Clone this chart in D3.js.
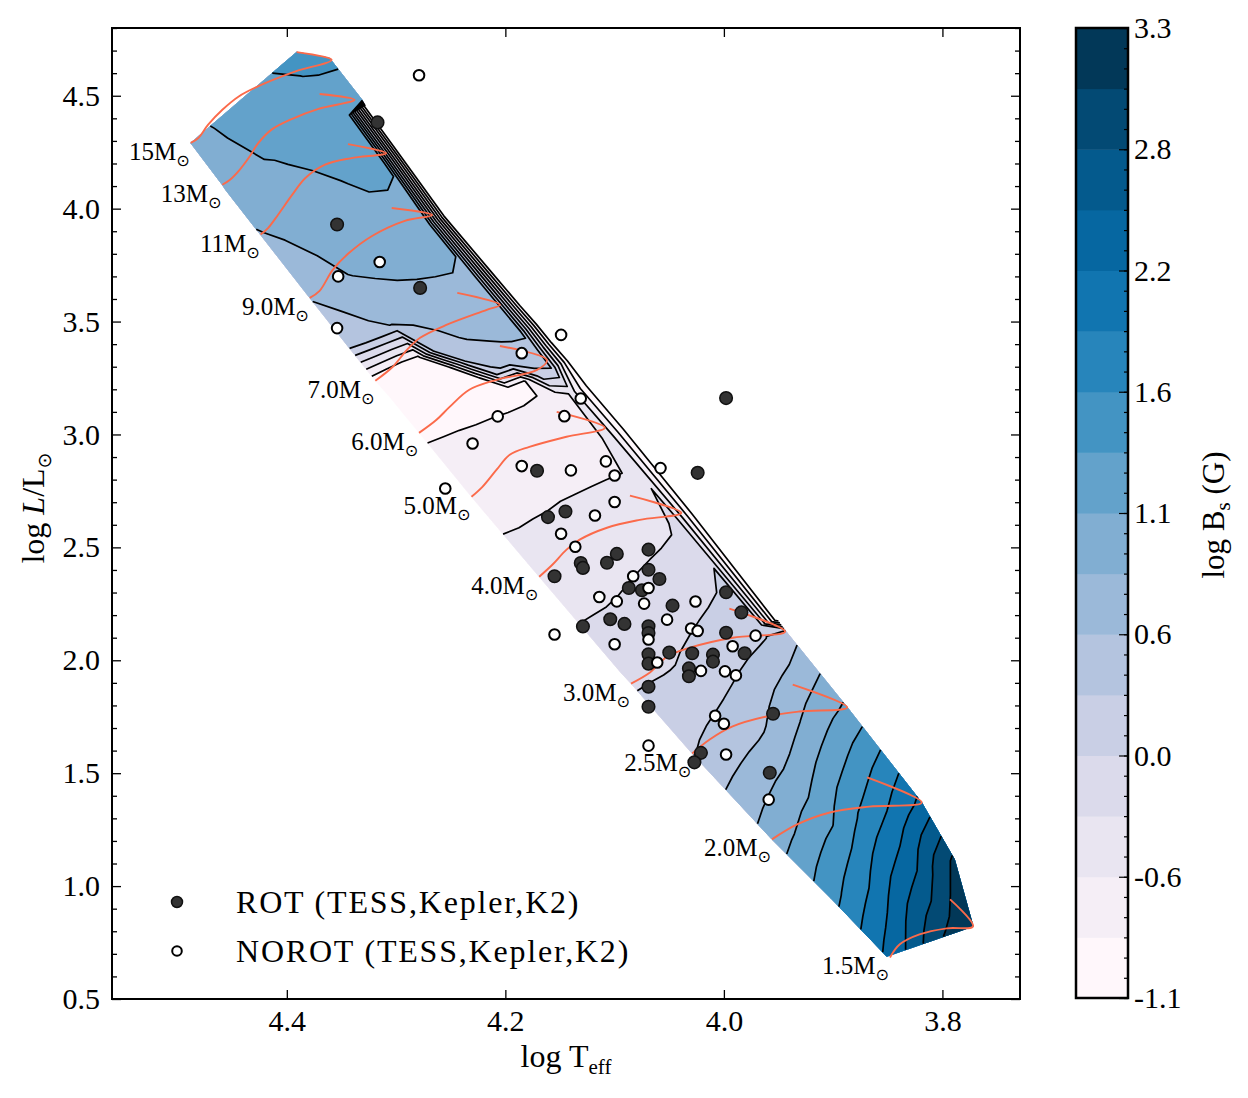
<!DOCTYPE html>
<html>
<head>
<meta charset="utf-8">
<script src="https://cdn.jsdelivr.net/npm/d3@7"></script>
<style>
  body { margin: 0; background: #fff; }
  svg text { font-family: 'Liberation Serif', 'DejaVu Serif', serif; fill: #000; }
</style>
</head>
<body>
<svg id="chart"></svg>
<script>
// ---- contour levels / ticks ----
const levels = d3.range(17).map(i => -1.1 + i * 0.275);
const cbarTickLabels = ['-1.1', '-0.6', '0.0', '0.6', '1.1', '1.6', '2.2', '2.8', '3.3'];
const xTicks = [4.4, 4.2, 4.0, 3.8];
const yTicks = [0.5, 1.0, 1.5, 2.0, 2.5, 3.0, 3.5, 4.0, 4.5];

// cross-sections of the main-sequence band, ZAMS edge -> TAMS edge
const sectionMass = ['edge', '15', '13', '12.8', '11', '9', '8', '7', '6.67', '6.33', '6', '5.6', '5', '4', '3.1', '3', '2.5', '2', '1.75', '1.5'];
const zamsLogT = [4.488, 4.488, 4.459, 4.456, 4.424, 4.379, 4.343, 4.319, 4.305, 4.292, 4.279, 4.262, 4.231, 4.169, 4.094, 4.085, 4.029, 3.956, 3.902, 3.851];
const zamsLogL = [4.291, 4.291, 4.105, 4.083, 3.884, 3.605, 3.384, 3.238, 3.161, 3.084, 3.008, 2.908, 2.724, 2.370, 1.944, 1.897, 1.587, 1.207, 0.946, 0.689];
const tamsLogT = [4.391, 4.361, 4.331, 4.328, 4.296, 4.255, 4.213, 4.185, 4.170, 4.156, 4.141, 4.122, 4.088, 4.026, 3.951, 3.943, 3.887, 3.819, 3.789, 3.772];
const tamsLogL = [4.693, 4.667, 4.481, 4.458, 4.246, 3.972, 3.733, 3.574, 3.493, 3.411, 3.330, 3.225, 3.030, 2.654, 2.180, 2.127, 1.791, 1.370, 1.118, 0.822];
// fractional main-sequence position of each sample
const tauRows = [0, 0.1, 0.2, 0.3, 0.4, 0.5, 0.6, 0.7, 0.8, 0.88, 1.0];
// log Bs read along each cross-section (one value per tauRows entry)
const logBsBySection = [
  [0.98, 1.04, 1.11, 1.16, 1.20, 1.24, 1.29, 1.34, 1.39, 1.43, 1.50],
  [0.98, 1.05, 1.12, 1.17, 1.21, 1.25, 1.29, 1.33, 1.38, 1.40, 1.42],
  [0.95, 1.00, 1.05, 1.10, 1.14, 1.17, 1.20, 1.22, 1.24, 1.25, 1.25],
  [0.93, 0.98, 1.03, 1.08, 1.12, 1.15, 1.18, 1.20, 1.22, 1.20, -1.30],
  [0.81, 0.87, 0.92, 0.97, 1.01, 1.05, 1.09, 1.13, 1.16, 1.15, -1.30],
  [0.57, 0.66, 0.76, 0.84, 0.90, 0.95, 0.98, 1.00, 0.98, 0.92, -1.30],
  [0.30, 0.40, 0.49, 0.56, 0.62, 0.68, 0.72, 0.75, 0.78, 0.76, -1.30],
  [-1.00, -1.00, -0.98, -0.90, 0.35, 0.48, 0.58, 0.64, 0.68, 0.70, -1.30],
  [-0.97, -0.97, -0.97, -0.96, -0.90, 0.30, 0.45, 0.52, 0.58, 0.60, -1.30],
  [-0.93, -0.93, -0.93, -0.93, -0.92, -0.90, 0.22, 0.35, 0.42, 0.45, -1.30],
  [-0.88, -0.89, -0.90, -0.91, -0.92, -0.93, -0.94, -0.88, 0.20, 0.27, -1.30],
  [-0.76, -0.76, -0.76, -0.77, -0.77, -0.78, -0.78, -0.79, -0.79, -0.45, -1.30],
  [-0.62, -0.63, -0.63, -0.64, -0.64, -0.65, -0.66, -0.67, -0.69, -0.40, -1.30],
  [-0.47, -0.46, -0.45, -0.43, -0.41, -0.39, -0.37, -0.35, -0.32, -0.20, -1.30],
  [-0.07, -0.06, -0.05, -0.03, 0.01, 0.05, 0.09, 0.13, 0.18, 0.24, -1.30],
  [-0.03, -0.02, -0.01, 0.01, 0.05, 0.09, 0.13, 0.18, 0.23, 0.28, 0.42],
  [0.26, 0.32, 0.38, 0.44, 0.50, 0.58, 0.70, 0.83, 0.95, 1.04, 1.15],
  [0.95, 1.05, 1.15, 1.26, 1.36, 1.53, 1.70, 1.83, 1.97, 2.09, 2.27],
  [1.55, 1.67, 1.79, 1.91, 2.07, 2.23, 2.35, 2.48, 2.70, 2.88, 3.08],
  [2.25, 2.35, 2.45, 2.58, 2.72, 2.85, 2.98, 3.06, 3.13, 3.19, 3.26]
];

// evolutionary tracks
const trackLabels = ['15M', '13M', '11M', '9.0M', '7.0M', '6.0M', '5.0M', '4.0M', '3.0M', '2.5M', '2.0M', '1.5M'];
const trackLogT = [
  [4.488, 4.481, 4.472, 4.459, 4.444, 4.423, 4.392, 4.359, 4.391],
  [4.459, 4.452, 4.443, 4.435, 4.426, 4.414, 4.395, 4.371, 4.338, 4.370],
  [4.424, 4.417, 4.408, 4.395, 4.383, 4.365, 4.341, 4.309, 4.344],
  [4.379, 4.370, 4.358, 4.344, 4.322, 4.292, 4.267, 4.304],
  [4.319, 4.303, 4.290, 4.278, 4.254, 4.217, 4.205, 4.244],
  [4.279, 4.263, 4.251, 4.233, 4.208, 4.171, 4.162, 4.205],
  [4.231, 4.221, 4.208, 4.196, 4.178, 4.144, 4.109, 4.153],
  [4.169, 4.157, 4.144, 4.132, 4.107, 4.077, 4.039, 4.086],
  [4.085, 4.068, 4.052, 4.031, 3.992, 3.944, 3.995],
  [4.029, 4.013, 3.992, 3.961, 3.931, 3.887, 3.937],
  [3.956, 3.933, 3.903, 3.867, 3.819, 3.869],
  [3.848, 3.839, 3.821, 3.796, 3.772, 3.793]
];
const trackLogL = [
  [4.291, 4.313, 4.372, 4.438, 4.497, 4.549, 4.608, 4.659, 4.693],
  [4.106, 4.128, 4.173, 4.224, 4.291, 4.350, 4.398, 4.442, 4.482, 4.508],
  [3.885, 3.915, 3.973, 4.062, 4.136, 4.195, 4.224, 4.246, 4.286],
  [3.605, 3.636, 3.729, 3.800, 3.879, 3.946, 3.972, 4.003],
  [3.238, 3.300, 3.375, 3.428, 3.485, 3.552, 3.574, 3.627],
  [3.007, 3.065, 3.122, 3.198, 3.242, 3.286, 3.330, 3.392],
  [2.724, 2.768, 2.844, 2.910, 2.945, 2.990, 3.030, 3.100],
  [2.370, 2.423, 2.490, 2.534, 2.587, 2.622, 2.653, 2.729],
  [1.897, 1.945, 2.016, 2.056, 2.100, 2.127, 2.229],
  [1.587, 1.649, 1.707, 1.751, 1.773, 1.791, 1.892],
  [1.207, 1.273, 1.326, 1.352, 1.370, 1.481],
  [0.684, 0.742, 0.786, 0.813, 0.822, 0.941]
];

// stars
const rotLogT = [4.317, 4.354, 4.278, 4.171, 4.024, 3.998, 4.145, 4.161, 4.098, 4.069, 4.131, 4.129, 4.107, 4.069, 4.059, 4.155, 4.087, 4.075, 4.047, 4.104, 4.091, 3.998, 3.984, 4.069, 4.069, 3.998, 4.129, 4.050, 4.029, 4.010, 4.010, 3.981, 4.069, 4.069, 4.032, 4.032, 4.069, 4.069, 3.955, 4.021, 4.027, 3.958];
const rotLogL = [4.382, 3.930, 3.649, 2.839, 2.830, 3.161, 2.659, 2.634, 2.471, 2.490, 2.431, 2.409, 2.432, 2.401, 2.360, 2.372, 2.320, 2.310, 2.242, 2.182, 2.161, 2.301, 2.212, 2.151, 2.121, 2.122, 2.150, 2.034, 2.031, 2.025, 1.994, 2.031, 2.027, 1.985, 1.964, 1.929, 1.883, 1.794, 1.763, 1.590, 1.548, 1.502];
const norotLogT = [4.279, 4.315, 4.353, 4.354, 4.149, 4.185, 4.131, 4.207, 4.146, 4.230, 4.185, 4.140, 4.255, 4.108, 4.100, 4.058, 4.100, 4.118, 4.149, 4.136, 4.083, 4.069, 4.114, 4.098, 4.073, 4.026, 4.052, 4.069, 4.030, 4.024, 3.971, 4.100, 3.992, 4.061, 4.021, 3.999, 3.989, 4.008, 4.000, 4.069, 3.998, 3.959, 4.155];
const norotLogL = [4.591, 3.764, 3.700, 3.471, 3.441, 3.360, 3.159, 3.080, 3.081, 2.960, 2.860, 2.841, 2.761, 2.881, 2.818, 2.851, 2.701, 2.641, 2.560, 2.503, 2.372, 2.320, 2.280, 2.261, 2.251, 2.260, 2.180, 2.092, 2.141, 2.130, 2.109, 2.071, 2.062, 1.990, 1.953, 1.951, 1.933, 1.754, 1.719, 1.622, 1.583, 1.383, 2.114];

class BandChart {

    constructor(_config) {
        this.config = {
            parentElement: _config.parentElement,
            containerWidth: _config.containerWidth || 1248,
            containerHeight: _config.containerHeight || 1098,
            margin: _config.margin || {top: 28, right: 228, bottom: 99, left: 112}
        };
        this.initVis();
    }

    initVis() {
        let vis = this;

        vis.width = vis.config.containerWidth - vis.config.margin.left - vis.config.margin.right;
        vis.height = vis.config.containerHeight - vis.config.margin.top - vis.config.margin.bottom;

        vis.xScale = d3.scaleLinear().domain([4.56, 3.729]).range([0, vis.width]);
        vis.yScale = d3.scaleLinear().domain([0.5, 4.8]).range([vis.height, 0]);
        vis.colorOf = k => d3.interpolatePuBu(k / 15);

        vis.svg = d3.select(vis.config.parentElement)
            .attr('width', vis.config.containerWidth)
            .attr('height', vis.config.containerHeight);

        vis.chart = vis.svg.append('g')
            .attr('transform', `translate(${vis.config.margin.left},${vis.config.margin.top})`);

        vis.nCols = sectionMass.length;
        vis.nRows = tauRows.length;
    }

    // grid coordinates from d3.contours -> (logT, logL)
    gridToData(gx, gy) {
        let vis = this;
        const s = Math.max(0, Math.min(vis.nCols - 1, gx - 0.5));
        const t = Math.max(0, Math.min(vis.nRows - 1, gy - 0.5));
        const i = Math.min(vis.nCols - 2, Math.floor(s)), fs = s - i;
        const j = Math.min(vis.nRows - 2, Math.floor(t)), ft = t - j;
        const tau = tauRows[j] + ft * (tauRows[j + 1] - tauRows[j]);
        const at = k => [zamsLogT[k] + tau * (tamsLogT[k] - zamsLogT[k]),
                         zamsLogL[k] + tau * (tamsLogL[k] - zamsLogL[k])];
        const a = at(i), b = at(i + 1);
        return [a[0] + fs * (b[0] - a[0]), a[1] + fs * (b[1] - a[1])];
    }

    toScreen(p) {
        let vis = this;
        const d = vis.gridToData(p[0], p[1]);
        return vis.xScale(d[0]).toFixed(2) + ',' + vis.yScale(d[1]).toFixed(2);
    }

    isBorder(p) {
        return p[0] <= 0 || p[0] >= this.nCols || p[1] <= 0 || p[1] >= this.nRows;
    }

    // split a contour ring into the pieces that are real iso-lines
    ringLines(ring) {
        let vis = this;
        let pts = ring.slice();
        const first = pts[0], last = pts[pts.length - 1];
        if (first[0] === last[0] && first[1] === last[1]) pts.pop();
        const n = pts.length;
        const start = pts.findIndex(p => vis.isBorder(p));
        if (start < 0) return ['M' + pts.map(p => vis.toScreen(p)).join('L') + 'Z'];
        const runs = [];
        let cur = [];
        for (let k = 1; k <= n; k++) {
            const p = pts[(start + k) % n];
            if (vis.isBorder(p)) {
                if (cur.length > 1) runs.push(cur);
                cur = [];
            } else cur.push(p);
        }
        if (cur.length > 1) runs.push(cur);
        return runs.map(r => 'M' + r.map(p => vis.toScreen(p)).join('L'));
    }

    renderVis() {
        let vis = this;

        // filled contours
        const values = [];
        for (let j = 0; j < vis.nRows; j++)
            for (let i = 0; i < vis.nCols; i++) values.push(logBsBySection[i][j]);
        const contours = d3.contours().size([vis.nCols, vis.nRows]).thresholds(levels)(values);

        const fills = vis.chart.append('g');
        contours.slice(0, 16).forEach((c, k) => {
            const d = c.coordinates.map(poly => poly.map(ring =>
                'M' + ring.map(p => vis.toScreen(p)).join('L') + 'Z').join('')).join('');
            if (!d) return;
            fills.append('path')
                .attr('d', d)
                .attr('fill', vis.colorOf(k))
                .attr('fill-rule', 'evenodd')
                .attr('stroke', vis.colorOf(k))
                .attr('stroke-width', 0.6);
        });

        // contour lines
        const lines = vis.chart.append('g');
        contours.forEach(c => {
            const d = [];
            c.coordinates.forEach(poly => poly.forEach(ring => d.push(...vis.ringLines(ring))));
            if (!d.length) return;
            lines.append('path')
                .attr('d', d.join(''))
                .attr('fill', 'none')
                .attr('stroke', '#000')
                .attr('stroke-width', 1.7)
                .attr('stroke-linejoin', 'round');
        });

        // evolutionary tracks
        const trackLine = d3.line()
            .x(d => vis.xScale(d[0]))
            .y(d => vis.yScale(d[1]))
            .curve(d3.curveCatmullRom.alpha(0.5));
        vis.chart.append('g').selectAll('.track')
            .data(trackLogT.map((ts, i) => ts.map((t, k) => [t, trackLogL[i][k]])))
            .join('path')
            .attr('class', 'track')
            .attr('d', trackLine)
            .attr('fill', 'none')
            .attr('stroke', '#fb6a4a')
            .attr('stroke-width', 1.9);

        // mass labels at the ZAMS end of each track
        const labels = vis.chart.append('g').selectAll('.mlab')
            .data(trackLabels)
            .join('text')
            .attr('class', 'mlab')
            .attr('x', (d, i) => vis.xScale(trackLogT[i][0]) - 1)
            .attr('y', (d, i) => vis.yScale(trackLogL[i][0]) + 17)
            .attr('text-anchor', 'end')
            .style('font-size', '25px');
        labels.append('tspan').text(d => d);
        labels.append('tspan')
            .attr('dy', 6)
            .style('font-size', '16px')
            .style('font-family', 'DejaVu Sans')
            .text('\u2299');

        // stars
        const pts = vis.chart.append('g');
        pts.selectAll('.rot')
            .data(rotLogT.map((t, i) => [t, rotLogL[i]]))
            .join('circle')
            .attr('class', 'rot')
            .attr('cx', d => vis.xScale(d[0]))
            .attr('cy', d => vis.yScale(d[1]))
            .attr('r', 6.3)
            .attr('fill', '#333')
            .attr('stroke', '#111')
            .attr('stroke-width', 1.5);
        pts.selectAll('.norot')
            .data(norotLogT.map((t, i) => [t, norotLogL[i]]))
            .join('circle')
            .attr('class', 'norot')
            .attr('cx', d => vis.xScale(d[0]))
            .attr('cy', d => vis.yScale(d[1]))
            .attr('r', 5.3)
            .attr('fill', '#fff')
            .attr('stroke', '#000')
            .attr('stroke-width', 2);

        // legend
        const legend = vis.chart.append('g').attr('transform', 'translate(65,874)');
        legend.append('circle').attr('cx', 0).attr('cy', 0).attr('r', 5.5)
            .attr('fill', '#333').attr('stroke', '#111').attr('stroke-width', 1.5);
        legend.append('circle').attr('cx', 0).attr('cy', 49).attr('r', 4.8)
            .attr('fill', '#fff').attr('stroke', '#000').attr('stroke-width', 2);
        legend.selectAll('.ltxt')
            .data(['ROT (TESS,Kepler,K2)', 'NOROT (TESS,Kepler,K2)'])
            .join('text')
            .attr('class', 'ltxt')
            .attr('x', 59)
            .attr('y', (d, i) => i * 49 + 11)
            .style('font-size', '32px')
            .style('letter-spacing', '1.8px')
            .text(d => d);

        // axes, ticks inward on all sides
        const minorY = d3.range(5, 49).map(v => v / 10).filter(v => !yTicks.includes(v));
        vis.chart.append('g')
            .attr('transform', `translate(0,${vis.height})`)
            .call(d3.axisBottom(vis.xScale).tickValues(xTicks).tickSize(-9).tickPadding(11).tickFormat(d3.format('.1f')))
            .call(g => g.selectAll('text').style('font-size', '30px'));
        vis.chart.append('g')
            .call(d3.axisTop(vis.xScale).tickValues(xTicks).tickSize(-9).tickFormat(''));
        vis.chart.append('g')
            .call(d3.axisLeft(vis.yScale).tickValues(yTicks).tickSize(-9).tickPadding(12).tickFormat(d3.format('.1f')))
            .call(g => g.selectAll('text').style('font-size', '30px'));
        vis.chart.append('g')
            .call(d3.axisLeft(vis.yScale).tickValues(minorY).tickSize(-5).tickFormat(''));
        vis.chart.append('g')
            .attr('transform', `translate(${vis.width},0)`)
            .call(d3.axisRight(vis.yScale).tickValues(yTicks).tickSize(-9).tickFormat(''));
        vis.chart.append('g')
            .attr('transform', `translate(${vis.width},0)`)
            .call(d3.axisRight(vis.yScale).tickValues(minorY).tickSize(-5).tickFormat(''));
        vis.chart.selectAll('.domain').remove();
        vis.chart.selectAll('.tick line').attr('stroke', '#000').attr('stroke-width', 1.3);

        vis.chart.append('rect')
            .attr('width', vis.width).attr('height', vis.height)
            .attr('fill', 'none').attr('stroke', '#000').attr('stroke-width', 2);

        // axis titles
        const xt = vis.svg.append('text')
            .attr('x', 566).attr('y', 1067)
            .attr('text-anchor', 'middle')
            .style('font-size', '32px');
        xt.append('tspan').text('log T');
        xt.append('tspan').attr('dy', 7).style('font-size', '21px').text('eff');

        const yt = vis.svg.append('text')
            .attr('transform', 'translate(44,508) rotate(-90)')
            .attr('text-anchor', 'middle')
            .style('font-size', '32px');
        yt.append('tspan').text('log ');
        yt.append('tspan').style('font-style', 'italic').text('L');
        yt.append('tspan').text('/L');
        yt.append('tspan').attr('dy', 7).style('font-size', '19px')
            .style('font-family', 'DejaVu Sans').text('\u2299');

        vis.renderColorbar();
    }

    renderColorbar() {
        let vis = this;
        const cbW = 52, cbH = 970;
        const cb = vis.svg.append('g').attr('transform', 'translate(1076,28)');
        const cScale = d3.scaleLinear().domain([levels[0], levels[16]]).range([cbH, 0]);

        cb.selectAll('.band')
            .data(d3.range(16))
            .join('rect')
            .attr('class', 'band')
            .attr('x', 0)
            .attr('y', k => cScale(levels[k + 1]))
            .attr('width', cbW)
            .attr('height', k => cScale(levels[k]) - cScale(levels[k + 1]) + 0.5)
            .attr('fill', k => vis.colorOf(k));

        const majors = d3.range(9).map(i => levels[i * 2]);
        const minors = d3.range(49).map(i => levels[0] + i * 0.55 / 6);
        cb.append('g')
            .attr('transform', `translate(${cbW},0)`)
            .call(d3.axisRight(cScale).tickValues(minors).tickSize(-4).tickFormat(''));
        cb.append('g')
            .attr('transform', `translate(${cbW},0)`)
            .call(d3.axisRight(cScale).tickValues(majors).tickSize(-9).tickPadding(6)
                .tickFormat((d, i) => cbarTickLabels[i]))
            .call(g => g.selectAll('text').style('font-size', '30px'));
        cb.selectAll('.domain').remove();
        cb.selectAll('.tick line').attr('stroke', '#000').attr('stroke-width', 1.2);

        cb.append('rect')
            .attr('width', cbW).attr('height', cbH)
            .attr('fill', 'none').attr('stroke', '#000').attr('stroke-width', 2.5);

        const lab = vis.svg.append('text')
            .attr('transform', 'translate(1224,515) rotate(-90)')
            .attr('text-anchor', 'middle')
            .style('font-size', '31px');
        lab.append('tspan').text('log B');
        lab.append('tspan').attr('dy', 6).style('font-size', '21px').text('s');
        lab.append('tspan').attr('dy', -6).text(' (G)');
    }
}

const chart = new BandChart({parentElement: '#chart'});
chart.renderVis();
</script>
</body>
</html>
